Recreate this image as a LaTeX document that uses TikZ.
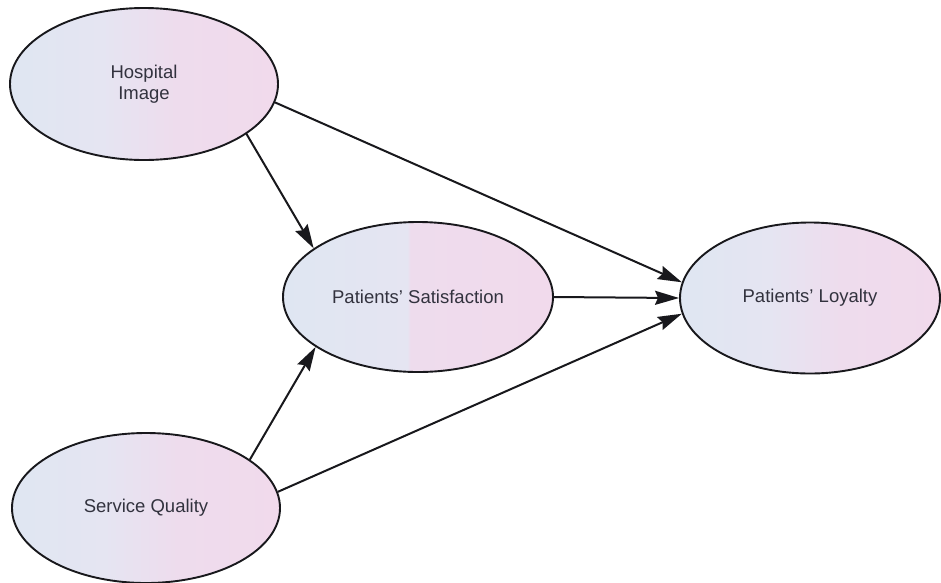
\documentclass[tikz,border=0pt]{standalone}
\usepackage{fontspec}
\setmainfont{Liberation Sans}
\usetikzlibrary{shapes.geometric,arrows.meta}

\definecolor{fillA}{RGB}{223,230,242}
\definecolor{fillB}{RGB}{229,229,242}
\definecolor{fillC}{RGB}{238,220,237}
\definecolor{fillD}{RGB}{241,218,236}
\definecolor{inkline}{RGB}{24,24,28}
\definecolor{inktext}{RGB}{50,50,62}

% soft blue-to-pink fill, and a variant with a sharp split near the middle
\pgfdeclarehorizontalshading{softfill}{100bp}{%
  color(0bp)=(fillA); color(25bp)=(fillA); color(42bp)=(fillB);
  color(56bp)=(fillC); color(75bp)=(fillD); color(100bp)=(fillD)}
\pgfdeclarehorizontalshading{splitfill}{100bp}{%
  color(0bp)=(fillA); color(25bp)=(fillA); color(48bp)=(fillB);
  color(48.6bp)=(fillC); color(75bp)=(fillD); color(100bp)=(fillD)}

\begin{document}
\begin{tikzpicture}[x=1pt,y=-1pt,
  construct/.style={ellipse, draw=inkline, line width=1.9pt, inner sep=0pt,
    align=center, text=inktext,
    font=\fontsize{18.5}{21}\selectfont},
  link/.style={draw=inkline, line width=2pt,
    -{Stealth[length=24pt,width=14pt,inset=3pt]}}]

  \fill[white] (0,0) rectangle (941,582);
  \clip (0,0) rectangle (941,582);
  \useasboundingbox (0,0) rectangle (941,582);

  % constructs
  \node[construct, shading=softfill, minimum width=268pt, minimum height=152pt]
    (hi) at (144,84) {Hospital\\Image};
  \node[construct, shading=splitfill, minimum width=270pt, minimum height=150pt]
    (ps) at (418,297) {Patients' Satisfaction};
  \node[construct, shading=softfill, minimum width=260pt, minimum height=151pt]
    (pl) at (810,298) {Patients' Loyalty};
  \node[construct, shading=softfill, minimum width=268pt, minimum height=150pt]
    (sq) at (146,508) {Service Quality};

  % structural paths
  \draw[link] (hi.-8)   -- (pl.173);
  \draw[link] (hi.-26)  -- (ps.155);
  \draw[link] (ps.east) -- (pl.west);
  \draw[link] (sq.25)   -- (ps.-154);
  \draw[link] (sq.7)    -- (pl.-173);
\end{tikzpicture}
\end{document}
